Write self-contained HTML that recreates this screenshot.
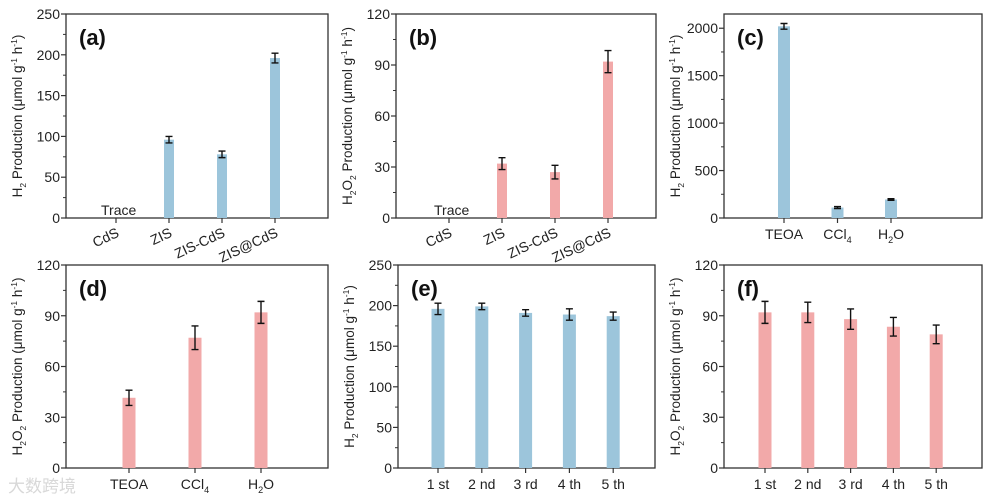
<!DOCTYPE html>
<html><head><meta charset="utf-8"><style>
body{margin:0;background:#fff}
svg{display:block;font-family:"Liberation Sans","Noto Sans CJK SC",sans-serif}
</style></head><body>
<svg id="fig" width="995" height="501"></svg>
<script>
const catsA=["CdS","ZIS","ZIS-CdS","ZIS@CdS"];
const valsA=[0,96,78,196];
const errA=[0,4,4,6];
const catsB=["CdS","ZIS","ZIS-CdS","ZIS@CdS"];
const valsB=[0,32,27,92];
const errB=[0,3.5,4,6.5];
const catsC=["TEOA","CCl4","H2O"];
const valsC=[2020,110,195];
const errC=[30,10,8];
const catsD=["TEOA","CCl4","H2O"];
const valsD=[41.5,77,92];
const errD=[4.5,7,6.5];
const catsE=["1 st","2 nd","3 rd","4 th","5 th"];
const valsE=[196,199,191,189,187];
const errE=[7,4,4,7,5];
const catsF=["1 st","2 nd","3 rd","4 th","5 th"];
const valsF=[92,92,88,83.5,79];
const errF=[6.5,6,6,5.5,5.5];
const ticksA=[0,50,100,150,200,250];
const ticksB=[0,30,60,90,120];
const ticksC=[0,500,1000,1500,2000];
const ticksE=[0,50,100,150,200,250];

const NS="http://www.w3.org/2000/svg";
const svg=document.getElementById('fig');
function mk(t,a,p){const e=document.createElementNS(NS,t);for(const k in a)e.setAttribute(k,a[k]);(p||svg).appendChild(e);return e;}
const BLUE="#9cc5db",PINK="#f2a9a9";

function chemLabel(g,txt,x,y,anchor,size){
  const t=mk('text',{x:x,y:y,'text-anchor':anchor,'font-size':size,fill:'#222'},g);
  const m={"CCl4":[["CCl",0],["4",1]],"H2O":[["H",0],["2",1],["O",0,-4]]};
  const parts=m[txt]||[[txt,0]];
  parts.forEach(p=>{const s=mk('tspan',{},t);if(p[1]){s.setAttribute('font-size',size*0.65);s.setAttribute('dy',4);}else if(p[2]){s.setAttribute('dy',p[2]);}s.textContent=p[0];});
  return t;
}

function panel(o){
  const g=mk('g',{});
  
  
  const L=o.L,R=o.R,T=o.T,B=o.B;
  const y=v=>B-(v/o.max)*(B-T);
  const x=i=>o.x0+i*o.step;
  const frame=mk('rect',{x:L,y:T,width:R-L,height:B-T,fill:'none',stroke:'#333','stroke-width':1.3},g);
  
  
  o.ticks.forEach((v,k)=>{
    mk('line',{x1:L-5,x2:L,y1:y(v),y2:y(v),stroke:'#333','stroke-width':1.2},g);
    const t=mk('text',{x:L-6,y:y(v)+5,'text-anchor':'end','font-size':14,fill:'#222'},g);
    t.textContent=v;
    
    
    if(k<o.ticks.length-1){const mv=(v+o.ticks[k+1])/2;mk('line',{x1:L-3,x2:L,y1:y(mv),y2:y(mv),stroke:'#333','stroke-width':1},g);}
  });
  const yl=mk('text',{transform:`translate(${L-44},${(T+B)/2}) rotate(-90)`,'text-anchor':'middle','font-size':13.5,fill:'#222'},g);
  
  
  const a=mk('tspan',{},yl);a.textContent='H';
  const s=mk('tspan',{'font-size':8.5,dy:4},yl);s.textContent='2';
  if(o.h2o2){const a2=mk('tspan',{dy:-4},yl);a2.textContent='O';const s2=mk('tspan',{'font-size':8.5,dy:4},yl);s2.textContent='2';}
  const rest=mk('tspan',{dy:-4},yl);rest.textContent=' Production (\u03bcmol g';
  const e1=mk('tspan',{'font-size':8.5,dy:-5},yl);e1.textContent='-1';
  const r2=mk('tspan',{dy:5},yl);r2.textContent=' h';
  const e2=mk('tspan',{'font-size':8.5,dy:-5},yl);e2.textContent='-1';
  const r3=mk('tspan',{dy:5},yl);r3.textContent=')';
  const pl=mk('text',{x:L+13,y:T+31,'font-size':22,'font-weight':'bold',fill:'#111'},g);
  pl.textContent='('+o.id+')';
  
  
  o.cats.forEach((c,i)=>{
    const cx=x(i);
    mk('line',{x1:cx,x2:cx,y1:B,y2:B+5,stroke:'#333','stroke-width':1.2},g);
    if(o.vals[i]>0){
      const b=mk('rect',{x:cx-o.bw/2,y:y(o.vals[i]),width:o.bw,height:B-y(o.vals[i]),fill:o.color},g);
      
      
      const e=o.err[i];
      mk('path',{d:`M${cx},${y(o.vals[i]+e)}V${y(o.vals[i]-e)}M${cx-3.5},${y(o.vals[i]+e)}H${cx+3.5}M${cx-3.5},${y(o.vals[i]-e)}H${cx+3.5}`,stroke:'#111','stroke-width':1.4,fill:'none'},g);
    }
    if(o.rot){
      const t=mk('text',{transform:`translate(${cx+4},${B+18}) rotate(-25)`,'text-anchor':'end','font-size':14,fill:'#222'},g);
      t.textContent=c;
      
      
    } else {
      const t=chemLabel(g,c,cx,B+21,'middle',14);
      
      
    }
  });
  if(o.trace){const t=mk('text',{x:x(0)-15,y:B-3,'font-size':14,fill:'#222'},g);t.textContent='Trace';
    
    }
}
panel({id:'a',L:66,R:328,T:14,B:218,max:250,ticks:ticksA,cats:catsA,vals:valsA,err:errA,x0:116,step:53,bw:10,color:BLUE,rot:true,trace:true});
panel({id:'b',L:396,R:656,T:14,B:218,max:120,ticks:ticksB,cats:catsB,vals:valsB,err:errB,x0:449,step:53,bw:10,color:PINK,rot:true,trace:true,h2o2:true});
panel({id:'c',L:724,R:982,T:14,B:218,max:2150,ticks:ticksC,cats:catsC,vals:valsC,err:errC,x0:784,step:53.5,bw:12,color:BLUE});
panel({id:'d',L:66,R:328,T:265,B:468,max:120,ticks:ticksB,cats:catsD,vals:valsD,err:errD,x0:129,step:66,bw:13,color:PINK,h2o2:true});
panel({id:'e',L:398,R:655,T:265,B:468,max:250,ticks:ticksE,cats:catsE,vals:valsE,err:errE,x0:438,step:43.8,bw:13,color:BLUE});
panel({id:'f',L:724,R:982,T:265,B:468,max:120,ticks:ticksB,cats:catsF,vals:valsF,err:errF,x0:765,step:42.8,bw:13,color:PINK,h2o2:true});
const wm=mk('text',{x:8,y:492,'font-size':17,fill:'#d8d8d8'});
wm.textContent='\u5927\u6570\u8de8\u5883';


</script>
</body></html>
